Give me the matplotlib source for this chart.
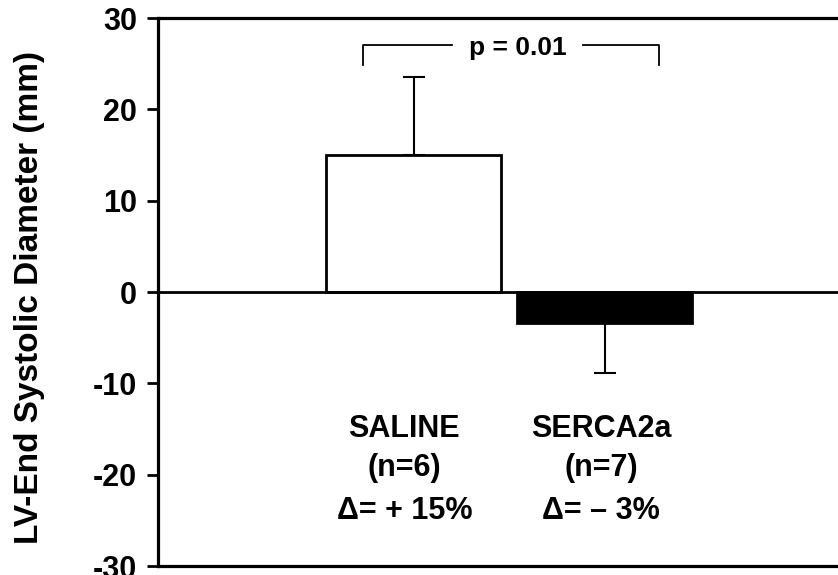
import matplotlib
matplotlib.use("Agg")
import matplotlib.pyplot as plt

plt.rcParams['font.family'] = ['Liberation Sans', 'DejaVu Sans']
plt.rcParams['font.weight'] = 'bold'

groups = ["SALINE", "SERCA2a"]
n_labels = ["(n=6)", "(n=7)"]
delta_labels = ["\u0394= + 15%", "\u0394= \u2013 3%"]
means = [15.0, -3.4]
errors = [8.5, 5.5]
colors = ["white", "black"]
yticks = [-30, -20, -10, 0, 10, 20, 30]
p_text = "p = 0.01"

W, H = 838, 575
fig = plt.figure(figsize=(W / 100, H / 100), dpi=100)
left, right, top, bottom = 158, 838, 18, 566
ax = fig.add_axes([left / W, 1 - bottom / H, (right - left) / W, (bottom - top) / H])

x = [0, 1]
ax.bar(x, means, width=0.916, color=colors, edgecolor="black", linewidth=2.0, zorder=2)
for xi, m, e in zip(x, means, errors):
    yerr = [[0], [e]] if m >= 0 else [[e], [0]]
    ax.errorbar([xi], [m], yerr=yerr, fmt="none", ecolor="black",
                elinewidth=1.5, capsize=8, capthick=1.5, zorder=1)

ax.axhline(0, color="black", lw=2.0, zorder=3)

ax.set_xlim(-1.340, 2.220)
ax.set_ylim(-30, 30)
ax.set_yticks(yticks)
ax.set_yticklabels([str(t) for t in yticks], fontsize=22, fontweight="bold")
ax.set_xticks([])
ax.tick_params(axis="y", direction="out", length=8, width=2, pad=7)
ax.spines["right"].set_visible(False)
for s in ["left", "top", "bottom"]:
    ax.spines[s].set_linewidth(2.3)

fig.text(30 / W, 1 - 297 / H, "LV-End Systolic Diameter (mm)", rotation=90,
         ha="center", va="center", fontsize=24, fontweight="bold")

# significance bracket
bx0, bx1 = -0.267, 1.283
by_top, by_bot = 27.0, 24.8
ax.plot([bx0, bx0, 0.199], [by_bot, by_top, by_top], color="black", lw=1.3)
ax.plot([0.885, bx1, bx1], [by_top, by_top, by_bot], color="black", lw=1.3)
ax.text(0.542, 25.95, p_text, ha="center", va="baseline", fontsize=19, fontweight="bold")

label_x = [-0.05, 0.98]
for lx, g, n, d in zip(label_x, groups, n_labels, delta_labels):
    ax.text(lx, -15.9, g, ha="center", va="baseline", fontsize=22, fontweight="bold")
    ax.text(lx, -20.2, n, ha="center", va="baseline", fontsize=22, fontweight="bold")
    ax.text(lx, -24.9, d, ha="center", va="baseline", fontsize=22, fontweight="bold")

fig.savefig("out.png", dpi=100)
